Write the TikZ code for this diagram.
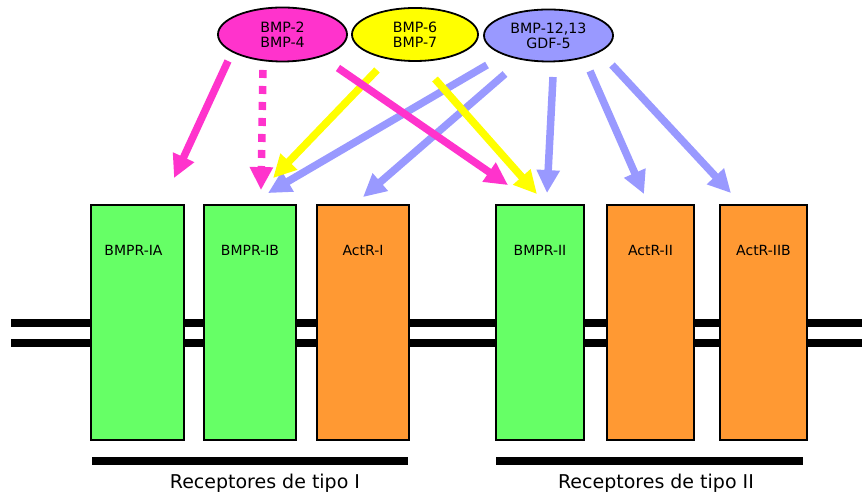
\documentclass[tikz,border=0pt]{standalone}
\usepackage{fontspec}
\setmainfont{DejaVu Sans}
\usetikzlibrary{arrows.meta,shapes.geometric}

\definecolor{bmppink}{HTML}{FF33CC}
\definecolor{bmpyellow}{HTML}{FFFF00}
\definecolor{bmpblue}{HTML}{9999FF}
\definecolor{recgreen}{HTML}{66FF66}
\definecolor{recorange}{HTML}{FF9933}

\tikzset{
  ligand/.style={ellipse, draw=black, line width=1.8pt, inner sep=0pt,
    align=center, font=\fontsize{14.2}{15}\selectfont},
  receptor/.style={draw=black, line width=1.8pt, minimum height=235pt,
    inner sep=0pt},
  reclabel/.style={anchor=north, yshift=-41.5pt, inner sep=0pt,
    font=\fontsize{14}{15}\selectfont},
  sig/.style={line width=7.5pt, -{Triangle[length=23pt,width=22pt]}},
  membrane/.style={line width=8pt},
}

\begin{document}
\begin{tikzpicture}[x=1pt,y=1pt]
  \useasboundingbox (0,0) rectangle (862,494);

  % membrane
  \draw[membrane] (11,171) -- (862,171);
  \draw[membrane] (11,151) -- (862,151);

  % ligands
  \node[ligand, fill=bmppink, minimum width=129pt, minimum height=54pt] (bmpA) at (282.5,459.5) {BMP-2\\BMP-4};
  \node[ligand, fill=bmpyellow, minimum width=126pt, minimum height=53pt] (bmpB) at (415,459.5) {BMP-6\\BMP-7};
  \node[ligand, fill=bmpblue, minimum width=129pt, minimum height=52pt] (gdf) at (548.5,458.5) {BMP-12,13\\GDF-5};

  % receptors
  \node[receptor, fill=recgreen, minimum width=93pt,
    label={[reclabel, xshift=-4pt]north:BMPR-IA}] (ia) at (137.5,171.5) {};
  \node[receptor, fill=recgreen, minimum width=92pt,
    label={[reclabel]north:BMPR-IB}] (ib) at (250,171.5) {};
  \node[receptor, fill=recorange, minimum width=92pt,
    label={[reclabel]north:ActR-I}] (act1) at (363,171.5) {};
  \node[receptor, fill=recgreen, minimum width=88pt,
    label={[reclabel]north:BMPR-II}] (bmpr2) at (540,171.5) {};
  \node[receptor, fill=recorange, minimum width=87pt,
    label={[reclabel]north:ActR-II}] (act2) at (650.5,171.5) {};
  \node[receptor, fill=recorange, minimum width=87pt,
    label={[reclabel]north:ActR-IIB}] (act2b) at (763.5,171.5) {};

  % arrows
  \draw[sig, bmpblue] ([shift={(-61.5,-29.5)}]gdf.center) -- ([shift={(18,11)}]ib.north);
  \draw[sig, bmpblue] ([shift={(-43.5,-38.5)}]gdf.center) -- ([shift={(0,7)}]act1.north);
  \draw[sig, bmpblue] ([shift={(4.5,-41.5)}]gdf.center) -- ([shift={(7,11)}]bmpr2.north);
  \draw[sig, bmpblue] ([shift={(41.5,-35.5)}]gdf.center) -- ([shift={(-6.5,10)}]act2.north);
  \draw[sig, bmpblue] ([shift={(63.5,-29.5)}]gdf.center) -- ([shift={(-32.5,11)}]act2b.north);

  \draw[sig, bmpyellow] ([shift={(-38,-35.5)}]bmpB.center) -- ([shift={(23,26)}]ib.north);
  \draw[sig, bmpyellow] ([shift={(20,-44.5)}]bmpB.center) -- ([shift={(-3,10)}]bmpr2.north);

  \draw[sig, bmppink] ([shift={(-54.5,-26.5)}]bmpA.center) -- ([shift={(36.5,26)}]ia.north);
  \draw[sig, bmppink, dash pattern=on 8pt off 8pt] ([shift={(-19.5,-35.5)}]bmpA.center) -- ([shift={(11,14)}]ib.north);
  \draw[sig, bmppink] ([shift={(55.5,-33.5)}]bmpA.center) -- ([shift={(-32,19)}]bmpr2.north);

  % receptor groups
  \draw[membrane] (92,33) -- (408,33);
  \draw[membrane] (496,33) -- (803,33);
  \node[anchor=base, font=\fontsize{19}{20}\selectfont] (tipoI) at (265,5) {Receptores de tipo I};
  \node[anchor=base, font=\fontsize{19}{20}\selectfont] (tipoII) at (656,5) {Receptores de tipo II};
\end{tikzpicture}
\end{document}
